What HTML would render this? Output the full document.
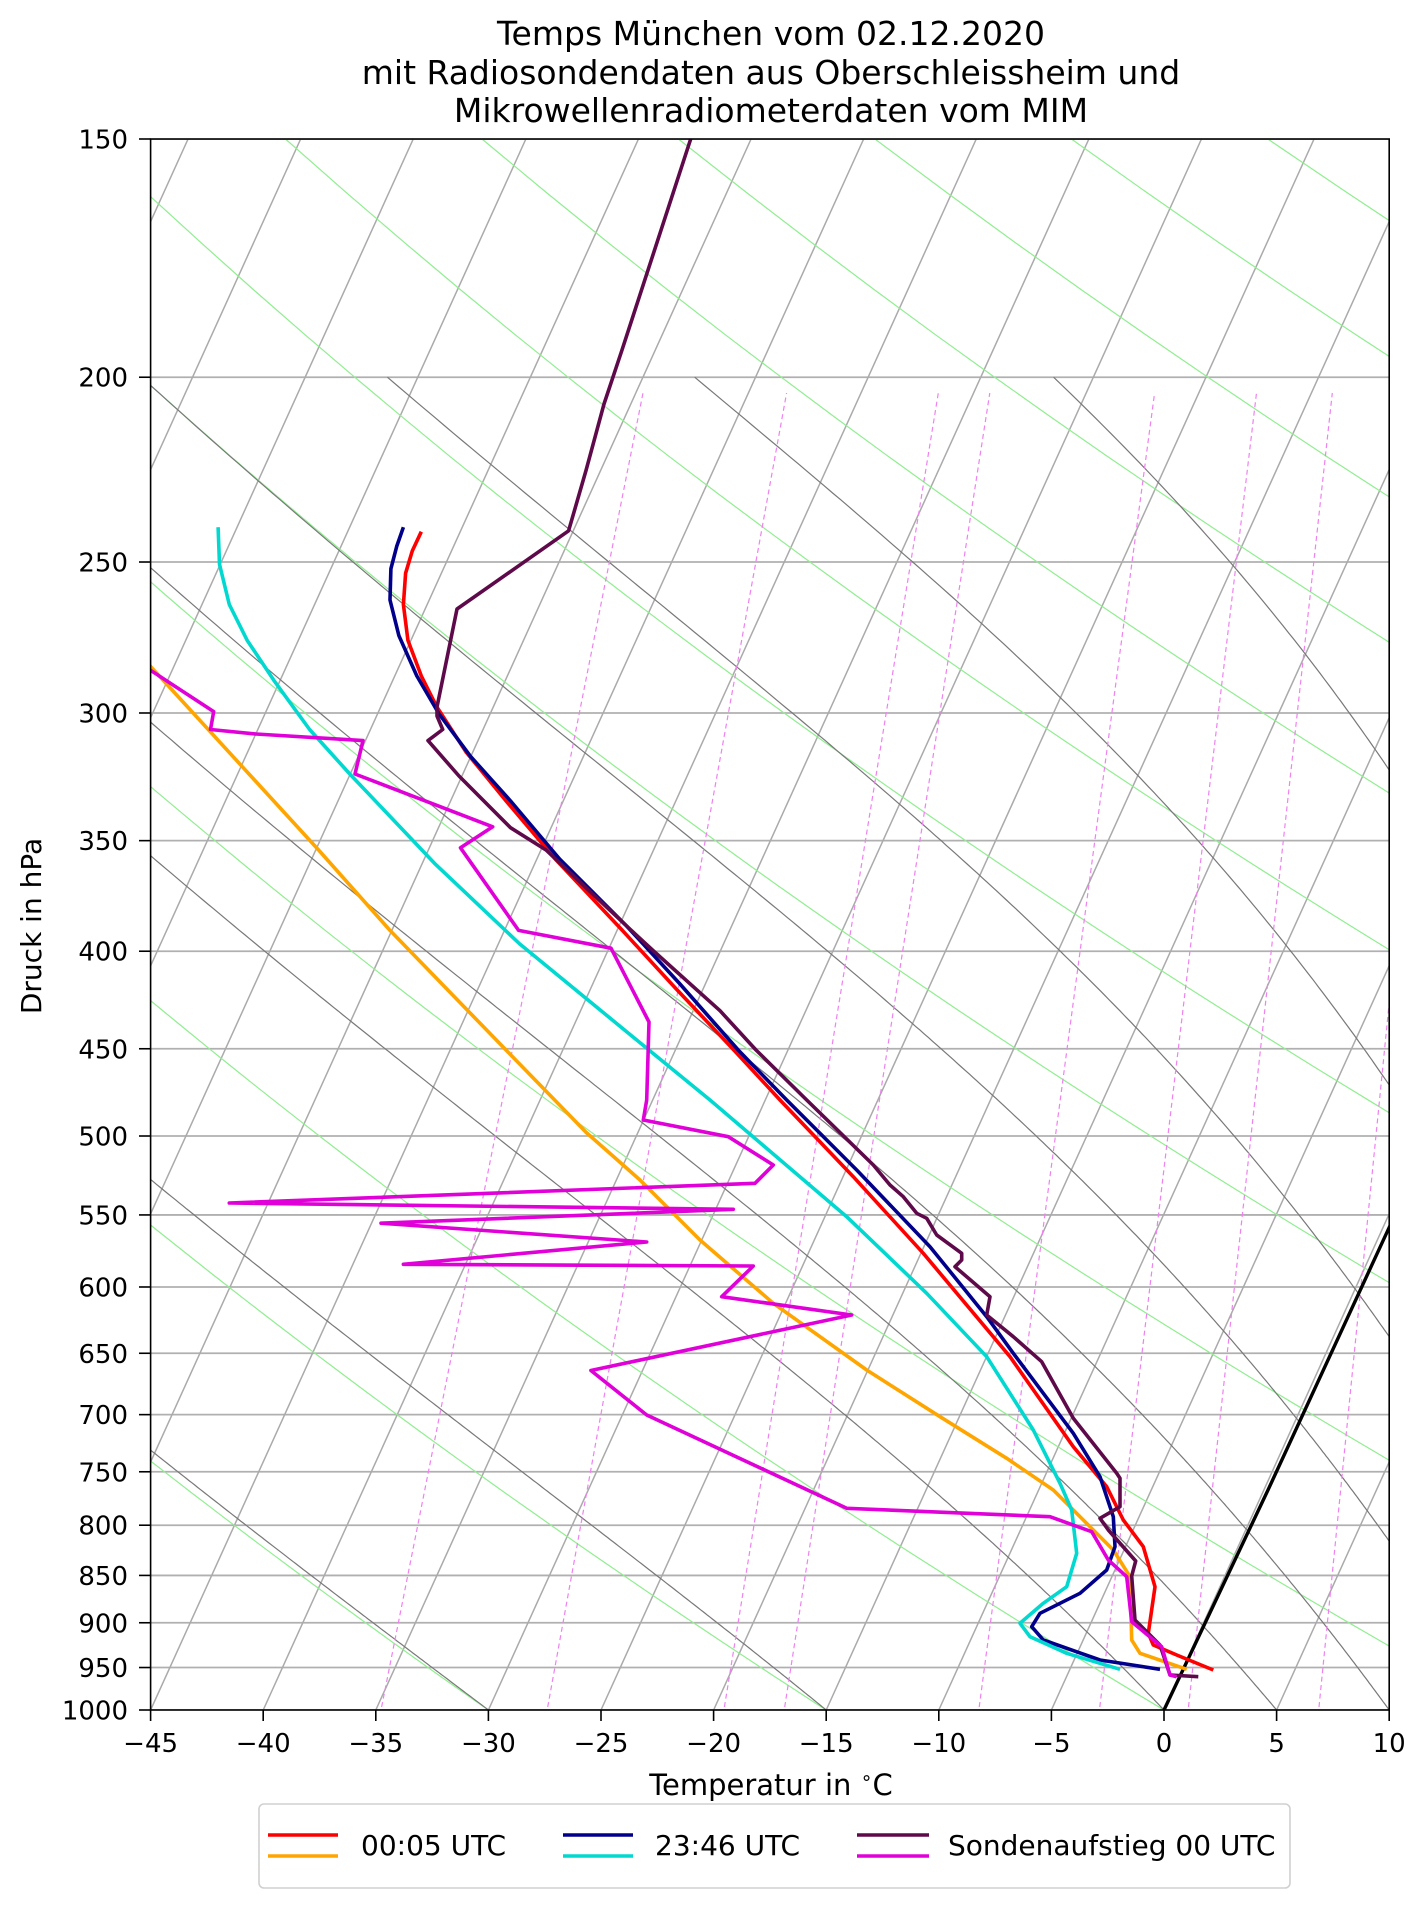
<!DOCTYPE html>
<html><head><meta charset="utf-8">
<style>
html,body{margin:0;padding:0;background:#fff;}
svg{display:block;}
text{font-family:"DejaVu Sans","Liberation Sans",sans-serif;fill:#000;}
</style></head>
<body>
<svg id="s" xmlns="http://www.w3.org/2000/svg" width="1427" height="1907" viewBox="0 0 1427 1907">
<defs><clipPath id="c"><rect x="150.6" y="139" width="1238.6" height="1571"/></clipPath></defs>
<rect width="1427" height="1907" fill="#fff"/>
<g id="bg" clip-path="url(#c)"></g>
<g id="data" clip-path="url(#c)" fill="none" stroke-width="3.6" stroke-linejoin="round" stroke-linecap="butt">
<polyline stroke="#ff0000" points="421.3,531.7 412.3,550.9 405.6,573.2 403.4,604.5 407.9,640.2 421.3,675.9 436.9,707 465.9,751.8 506,800.9 555.2,859 622,930 675.7,988.4 733.8,1050 780,1100 853.3,1176.7 923.3,1253.3 1010,1356.7 1073.3,1446.7 1106.7,1486.7 1123.3,1520 1143.3,1546.7 1155,1586.7 1148.3,1633.3 1153.3,1645 1176.7,1655 1213.3,1670"/>
<polyline stroke="#ffa500" points="140,660 148.9,664.7 318.6,850 390,930.4 506,1050 586.4,1132.6 640,1180 700,1240 773.3,1303.3 866.7,1370 940,1416.7 1006.7,1458.3 1053.3,1490 1083.3,1520 1113.3,1550 1130,1576.7 1131.7,1640 1140,1653.3 1186.7,1669.3"/>
<polyline stroke="#00008b" points="403.4,527.2 396.7,546.4 390.9,568.75 390,600 398.9,635.7 416.8,675.9 439,713.8 470.4,756.25 510.5,800.9 559.6,859 626.6,926 680,984 738.2,1050 786.7,1100 856.7,1170 930,1246.7 986.7,1316.7 1013.3,1353.3 1073.3,1433.3 1100,1476.7 1113.3,1516.7 1115,1546.7 1106.7,1570 1080,1593.3 1040,1613.3 1031.7,1626.7 1043.3,1640 1100,1660 1160,1669.3"/>
<polyline stroke="#00d8d0" points="218.1,527.2 219.5,564.3 229.3,604.5 247.1,640.2 273.9,680.4 309.6,729.5 349.8,774 434.6,863.4 519.5,943.75 648.9,1050 710,1100 846.7,1216.7 926.7,1293.3 986.7,1356.7 1033.3,1430 1060,1483.3 1071.7,1510 1076.7,1553.3 1066.7,1586.7 1043.3,1603.3 1020,1623.3 1030,1636.7 1066.7,1653.3 1120,1669.3"/>
<polyline stroke="#5e0a4a" points="690.7,139 622,350 604,404 586,470.5 568.6,530.8 457,609 437,707 437,716 442.7,729.5 428,740.6 459,776 510.5,827.7 546,850 626.6,926 653,950.5 720,1010.7 756,1050 806.7,1100 873.3,1165 890,1185 903.3,1196.7 916.7,1213.3 926.7,1218.3 936.7,1235 961.7,1253.3 961.7,1260 955,1266.7 990,1296.7 986.7,1315 1013.3,1336.7 1041.7,1361.7 1073.3,1418.3 1116.7,1473.3 1120,1478.3 1120,1506.7 1100,1518.3 1108.3,1530 1135.7,1561 1131.7,1576 1135,1620 1160,1645 1170,1675 1198.3,1676.7"/>
<polyline stroke="#e000d8" points="140,664 148.9,669.2 213.7,711.6 210.5,729.5 256,734 363,740.6 355,774 492.7,826.8 460.5,847.8 518.6,930.4 611,948.2 649,1022 646.7,1100 643.3,1120 728.3,1136.7 773.3,1165 755,1183.3 229.3,1203 733.3,1209.3 381,1223.2 646.7,1242 403.4,1264.3 753.3,1266 721.7,1296.7 851.7,1315 590.9,1370.5 646.7,1415 846.7,1508.3 1050,1516.7 1091.7,1531.7 1108.3,1560 1126.7,1576.7 1131.7,1621.7 1161.7,1646.7 1170,1675 1176.7,1676.7"/>
</g>
<g id="axes"></g>
<rect x="150.6" y="139" width="1238.6" height="1571" fill="none" stroke="#000" stroke-width="1.6"/>
<text x="771" y="45" font-size="33" text-anchor="middle">Temps München vom 02.12.2020</text>
<text x="771" y="84" font-size="33" text-anchor="middle">mit Radiosondendaten aus Oberschleissheim und</text>
<text x="771" y="122" font-size="33" text-anchor="middle">Mikrowellenradiometerdaten vom MIM</text>
<text transform="translate(41,926) rotate(-90)" font-size="28" text-anchor="middle">Druck in hPa</text>
<text x="771" y="1795" font-size="29" text-anchor="middle">Temperatur in <tspan font-size="19" dy="-11">∘</tspan><tspan dy="11">C</tspan></text>
<rect x="259" y="1804" width="1031" height="84" rx="5" fill="#fff" stroke="#d0d0d0" stroke-width="1.6"/>
<g stroke-width="3.6">
<line x1="268" y1="1835" x2="338" y2="1835" stroke="#ff0000"/>
<line x1="268" y1="1856" x2="338" y2="1856" stroke="#ffa500"/>
<line x1="563" y1="1835" x2="633" y2="1835" stroke="#00008b"/>
<line x1="563" y1="1856" x2="633" y2="1856" stroke="#00d8d0"/>
<line x1="857" y1="1835" x2="929" y2="1835" stroke="#5e0a4a"/>
<line x1="857" y1="1856" x2="929" y2="1856" stroke="#e000d8"/>
</g>
<text x="361" y="1855" font-size="28">00:05 UTC</text>
<text x="655" y="1855" font-size="28">23:46 UTC</text>
<text x="948" y="1855" font-size="28">Sondenaufstieg 00 UTC</text>
</svg>
<script>
(function(){
var NS="http://www.w3.org/2000/svg";
var L=Math.log(1000/150);
function Y(p){return 139+1571*Math.log(p/150)/L;}
function X(T,p){return 150.6+(T+45)*22.52+0.4539*(1710-Y(p));}
var bg=document.getElementById('bg'),ax=document.getElementById('axes');
function el(par,tag,at){var e=document.createElementNS(NS,tag);for(var k in at)e.setAttribute(k,at[k]);par.appendChild(e);return e;}
function poly(par,pts,st,w,dash){var s=pts.map(function(q){return q[0].toFixed(1)+','+q[1].toFixed(1)}).join(' ');var a={points:s,fill:'none',stroke:st,'stroke-width':w};if(dash)a['stroke-dasharray']=dash;el(par,'polyline',a);}
var plist=[150,200,250,300,350,400,450,500,550,600,650,700,750,800,850,900,950,1000];
plist.forEach(function(p){el(bg,'line',{x1:150,x2:1390,y1:Y(p),y2:Y(p),stroke:'#b0b0b0','stroke-width':1.8});});
for(var T=-130;T<=10;T+=5){el(bg,'line',{x1:X(T,1000),y1:Y(1000),x2:X(T,150),y2:Y(150),stroke:'#aaaaaa','stroke-width':1.5});}
for(var T0=-120;T0<=320;T0+=15){var th=T0+273.15,pts=[];for(var p=1000;p>=150;p-=10){pts.push([X(th*Math.pow(p/1000,0.2857)-273.15,p),Y(p)]);}poly(bg,pts,'#90ee90',1.2);}
function dT(T,p){var tc=T-273.15;var es=6.112*Math.exp(17.67*tc/(tc+243.5));var rs=0.622*es/(p-es);var Rd=287.04,Lv=2.501e6,Cp=1005.7;return (Rd*T+Lv*rs)/(Cp+Lv*Lv*rs*0.622/(Rd*T*T))/p;}
[-30,-15,0,5,10,15,20,25,30].forEach(function(T0){var T=T0+273.15,p=1000,h=-2,pts=[[X(T0,1000),Y(1000)]];while(p>200.01){var k1=dT(T,p),k2=dT(T+h/2*k1,p+h/2),k3=dT(T+h/2*k2,p+h/2),k4=dT(T+h*k3,p+h);T+=h/6*(k1+2*k2+2*k3+k4);p+=h;pts.push([X(T-273.15,p),Y(p)]);}poly(bg,pts,'#787878',1.2);});
var bx=[381.6,547.7,724.4,784.7,979.2,1099.8,1188.5,1319],tx=[643,786.6,938.3,989.8,1154.6,1256.5,1332.3,1450];
for(var i=0;i<bx.length;i++){el(bg,'line',{x1:bx[i],y1:1707,x2:tx[i],y2:393,stroke:'#ee82ee','stroke-width':1.2,'stroke-dasharray':'5,3.5'});}
poly(bg,[[1164,1710],[1268,1490],[1394,1217]],'#000',3.4);
plist.forEach(function(p){var y=Y(p);el(ax,'line',{x1:139,x2:150.6,y1:y,y2:y,stroke:'#000','stroke-width':1.6});var t=el(ax,'text',{x:128,y:y+9.5,'font-size':26,'text-anchor':'end'});t.textContent=p;});
for(var T=-45;T<=10;T+=5){var x=150.6+(T+45)*22.52;el(ax,'line',{x1:x,x2:x,y1:1710,y2:1721,stroke:'#000','stroke-width':1.6});var t=el(ax,'text',{x:x,y:1752,'font-size':26,'text-anchor':'middle'});t.textContent=(T<0?'\u2212'+(-T):''+T);}
})();
</script>
</body></html>
